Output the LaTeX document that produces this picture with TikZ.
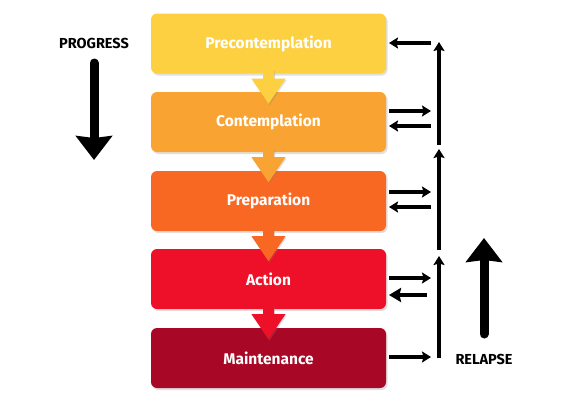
\documentclass[tikz,border=0pt]{standalone}
\usepackage{fontspec}
\setmainfont{Fira Sans}
\usetikzlibrary{arrows.meta,shadows,calc}
\definecolor{cPre}{RGB}{252,208,64}
\definecolor{cCon}{RGB}{249,163,50}
\definecolor{cPrep}{RGB}{249,104,35}
\definecolor{cAct}{RGB}{237,16,40}
\definecolor{cMain}{RGB}{168,8,38}
\newcommand{\stagetext}[1]{\raisebox{-1.5pt}{#1}}
\begin{document}
\begin{tikzpicture}[x=1pt,y=-1pt,
  stage/.style={rounded corners=6pt, minimum width=235pt, minimum height=60pt,
    inner sep=0pt, text=white, font=\bfseries\fontsize{15.5}{17}\selectfont,
    drop shadow={opacity=0.25,shadow xshift=1.5pt,shadow yshift=-2pt}},
  flowarrow/.style={drop shadow={opacity=0.25,shadow xshift=1pt,shadow yshift=-1.5pt}},
  small/.style={line width=3.2pt, -{Stealth[length=9pt,width=11pt,inset=1.5pt]}},
  bigsmall/.style={line width=3.2pt, -{Stealth[length=12pt,width=14pt,inset=1.5pt]}},
  big/.style={line width=9pt, line cap=round, -{Stealth[length=24pt,width=36pt,inset=2pt]}},
  lbl/.style={font=\bfseries\fontsize{14.5}{16}\selectfont, text=black, inner sep=0pt}
]
\useasboundingbox[fill=white] (0,0) rectangle (572,407);

% stages
\node[stage, fill=cPre]  (b1) at (268.5,43.5) {\stagetext{Precontemplation}};
\node[stage, fill=cCon]  (b2) at (268.5,122) {\stagetext{Contemplation}};
\node[stage, fill=cPrep] (b3) at (268.5,201) {\stagetext{Preparation}};
\node[stage, fill=cAct]  (b4) at (268.5,279) {\stagetext{Action}};
\node[stage, fill=cMain] (b5) at (268.5,358) {\stagetext{Maintenance}};

% block arrows between stages
\foreach \a/\c in {b1/cPre,b2/cCon,b3/cPrep,b4/cAct}{
  \fill[\c, flowarrow] ($(\a.south)+(-5.5,-4)$) -- ($(\a.south)+(5.5,-4)$)
    -- ($(\a.south)+(5.5,5)$) -- ($(\a.south)+(17,5)$) -- ($(\a.south)+(0,30)$)
    -- ($(\a.south)+(-17,5)$) -- ($(\a.south)+(-5.5,5)$) -- cycle;
}

% coordinates for the feedback arrows
\coordinate (pL) at (431,43);  \coordinate (pR) at (389,43);
\coordinate (c1L) at (389,111); \coordinate (c1R) at (431,111);
\coordinate (c2L) at (389,126); \coordinate (c2R) at (431,126);
\coordinate (r1L) at (389,192); \coordinate (r1R) at (431,192);
\coordinate (r2L) at (389,207); \coordinate (r2R) at (431,207);
\coordinate (a1L) at (389,278); \coordinate (a1R) at (431,278);
\coordinate (a2L) at (389,295); \coordinate (a2R) at (427,295);
\coordinate (mL) at (389,357);  \coordinate (mR) at (431,357);
\coordinate (v1b) at (439,145); \coordinate (v1t) at (439,42);
\coordinate (v2b) at (439,250); \coordinate (v2t) at (439,149);
\coordinate (v3b) at (439,358); \coordinate (v3t) at (439,256);

\draw[small] (pL) -- (pR);
\draw[small] (c1L) -- (c1R);
\draw[small] (c2R) -- (c2L);
\draw[small] (r1L) -- (r1R);
\draw[small] (r2R) -- (r2L);
\draw[small] (a1L) -- (a1R);
\draw[bigsmall] (a2R) -- (a2L);
\draw[small] (mL) -- (mR);
\draw[small] (v1b) -- (v1t);
\draw[small] (v2b) -- (v2t);
\draw[small] (v3b) -- (v3t);

% progress / relapse
\node[lbl] (prog) at (94,43) {PROGRESS};
\coordinate (progS) at (94,63);
\coordinate (progE) at (94,160);
\draw[big] (progS) -- (progE);

\node[lbl] (rel) at (484,359) {RELAPSE};
\coordinate (relS) at (484,334);
\coordinate (relE) at (484,238);
\draw[big] (relS) -- (relE);
\end{tikzpicture}
\end{document}
